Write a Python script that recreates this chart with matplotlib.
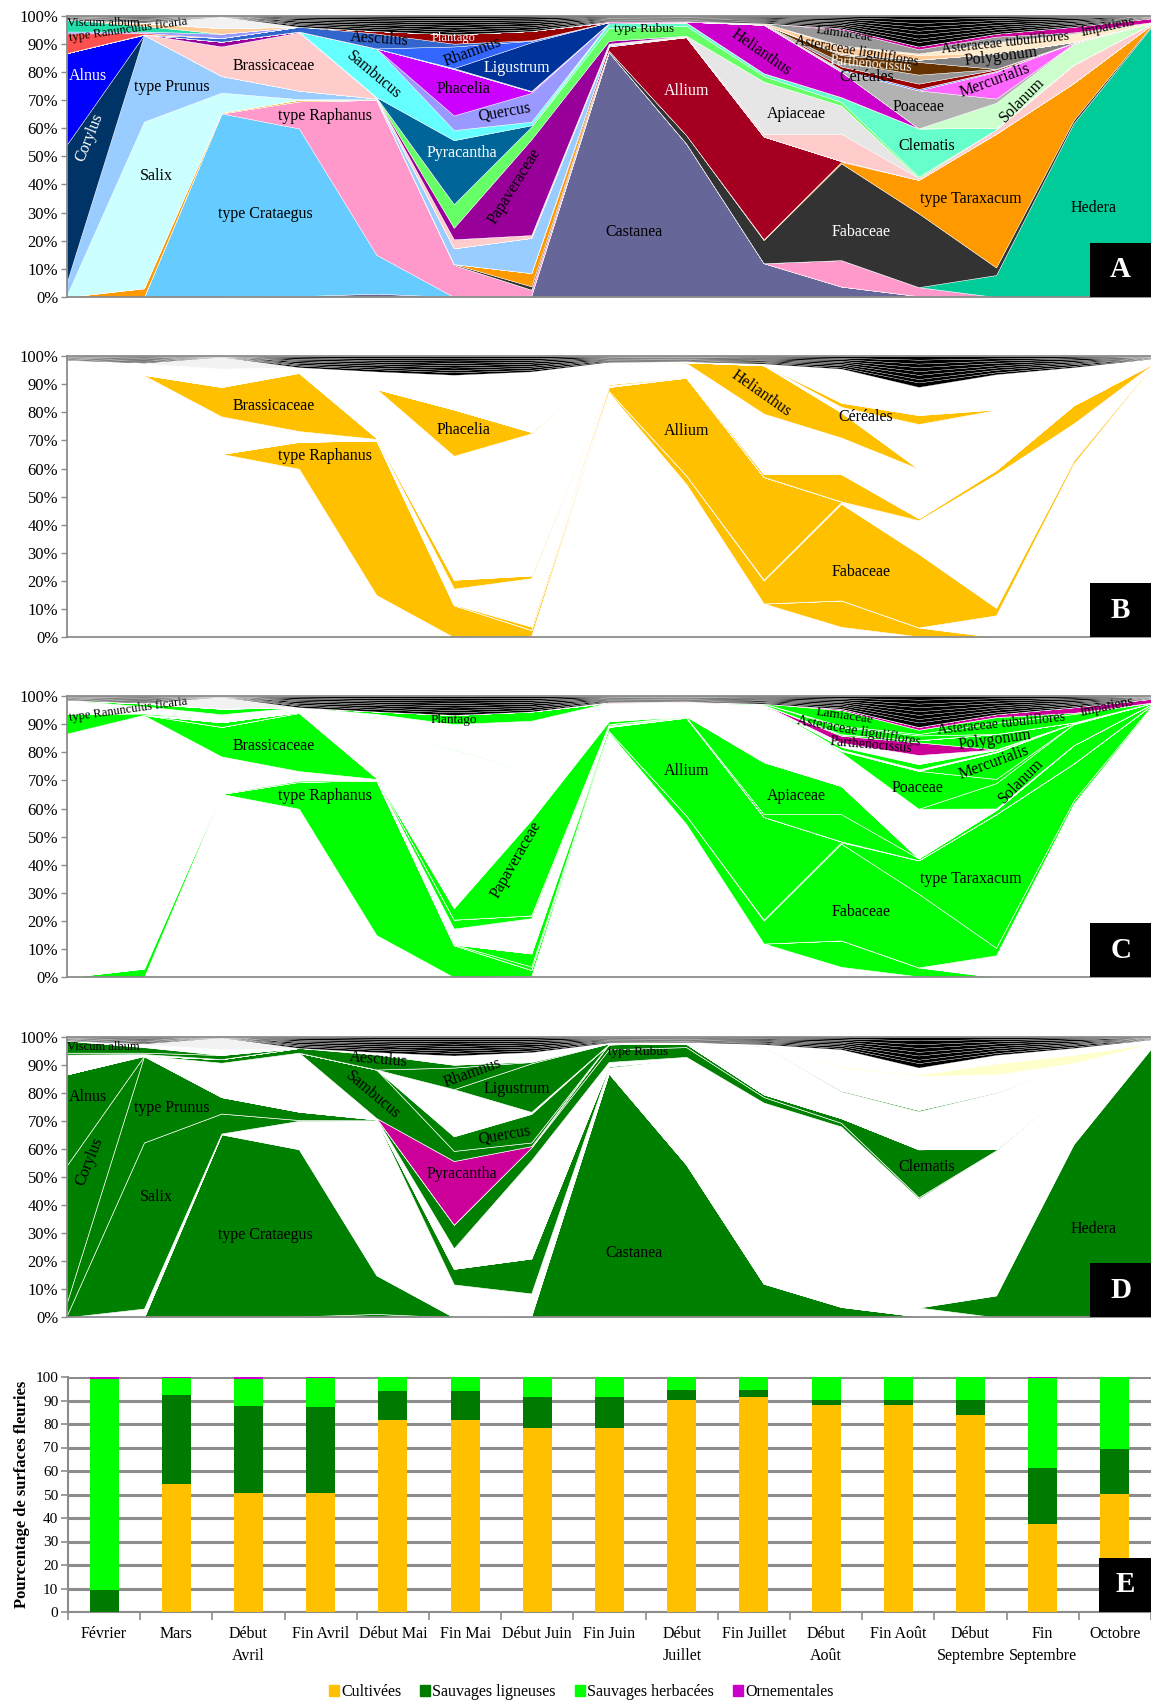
import matplotlib
matplotlib.use('Agg')
import matplotlib.pyplot as plt
import numpy as np
from matplotlib.patches import Rectangle, Patch

plt.rcParams['font.family'] = ['Liberation Serif', 'DejaVu Serif']

# ---------------- DATA ----------------
periods = ['Février', 'Mars', 'Début\nAvril', 'Fin Avril', 'Début Mai', 'Fin Mai',
           'Début Juin', 'Fin Juin', 'Début\nJuillet', 'Fin Juillet', 'Début\nAoût',
           'Fin Août', 'Début\nSeptembre', 'Fin\nSeptembre', 'Octobre']

# pollen taxa (% of pollen loads), stacked bottom -> top
castanea      = [0, 0, 0, 0.3, 1.2, 0, 0.5, 87, 54.5, 12, 3.7, 0.3, 0, 0, 0]
crataegus     = [0, 0, 65.2, 59.6, 13.8, 0, 0, 0, 0, 0, 0, 0, 0, 0, 0]
raphanus      = [0, 0, 0, 9.6, 55, 11.4, 2.1, 0, 0, 0, 9.4, 3.2, 0, 0, 0]
hedera        = [0, 0, 0, 0, 0, 0, 0, 0, 0, 0, 0, 0, 7.8, 61.7, 95.8]
fabaceae      = [0, 0, 0, 0, 0, 0.3, 1.2, 0.5, 3.0, 8.2, 34.4, 26.2, 2.7, 1.1, 0.4]
taraxacum     = [0, 3.1, 0.3, 0.5, 0.2, 0, 4.7, 0, 0, 0.3, 0.5, 11.9, 47.5, 13.2, 0.4]
allium        = [0, 0, 0, 0, 0, 0, 0, 1.5, 34.8, 36.5, 0.3, 0, 0, 0, 0]
salix         = [0.4, 59.2, 7.1, 0.3, 0, 0, 0, 0, 0, 0, 0, 0, 0, 0, 0]
prunus        = [4.5, 30.8, 5.9, 3.0, 0.3, 5.6, 12.5, 0.5, 0, 0, 0, 0, 0, 0, 0]
corylus       = [49.1, 0, 0, 0, 0, 0, 0, 0, 0, 0, 0, 0, 0, 0, 0]
alnus         = [32.6, 0, 0, 0, 0, 0, 0, 0, 0, 0, 0, 0, 0, 0, 0]
brassicaceae  = [0, 0.2, 10.5, 20.7, 0.4, 3.2, 1.0, 0.5, 0.2, 1.0, 9.7, 0.7, 1.5, 6.5, 0.4]
apiaceae      = [0, 0, 0, 0, 0, 0, 0, 0, 0.3, 18.5, 10.0, 0, 0, 0, 0]
papaveraceae  = [0, 0, 1.7, 0.3, 0, 4.1, 34, 1.0, 0, 0, 0, 0, 0, 0, 0]
rubus         = [0, 0, 0, 0, 0.1, 8.4, 4.5, 4.5, 3.5, 2.0, 1.3, 0.5, 0, 0, 0]
clematis      = [0, 0, 0, 0, 0, 0, 0, 1.8, 1.2, 1.0, 1.7, 17.1, 0.5, 0, 0]
pyracantha    = [0, 0, 0, 0, 0, 22.7, 0.5, 0, 0, 0, 0, 0, 0, 0, 0]
sambucus      = [0, 0, 0, 0, 17.3, 3.6, 1.3, 0, 0, 0, 0, 0, 0, 0, 0]
quercus       = [0, 0, 0, 0, 0, 5.2, 10.2, 0, 0, 0, 0, 0, 0, 0, 0]
phacelia      = [0, 0, 0, 0, 0, 16.5, 0.5, 0, 0, 0, 0, 0, 0, 0, 0]
helianthus    = [0, 0, 0, 0, 0, 0, 0, 0, 0.3, 17.2, 9.0, 0, 0, 0, 0]
solanum       = [0, 0, 0, 0, 0, 0, 0, 0, 0, 0, 0, 0, 9.0, 7.5, 0.4]
poaceae       = [0, 0, 0, 0, 0, 0.3, 0.2, 0, 0, 0, 0.5, 13.5, 1.5, 0, 0]
mercurialis   = [0, 0, 0, 0, 0, 0, 0, 0, 0, 0, 0, 0, 9.5, 0.3, 0]
ligustrum     = [0, 0, 0, 0, 0, 0, 17.3, 0.3, 0, 0, 0, 0, 0, 0, 0]
rhamnus       = [0, 0, 0, 0, 0, 7.7, 0.5, 0, 0, 0.2, 0.4, 0.5, 0.3, 0, 0]
aesculus      = [0, 0, 1.3, 1.7, 5.3, 1.0, 0.2, 0, 0, 0, 0, 0, 0, 0, 0]
plantago      = [0, 0, 0, 0, 0.9, 3.3, 3.3, 0, 0, 0, 1.0, 1.9, 0.5, 0, 0]
cereales      = [0, 0, 0, 0, 0, 0, 0, 0, 0, 0, 1.5, 3.2, 0.2, 0, 0]
parthenocis   = [0, 0, 0, 0, 0, 0, 0, 0, 0, 0, 2.5, 4.5, 0, 0, 0]
polygonum     = [0, 0, 0, 0, 0, 0, 0, 0, 0, 0, 0.5, 0.8, 5.5, 0.3, 0]
ranunculus    = [7.0, 0.5, 0, 0, 0, 0, 0, 0, 0, 0, 0, 0, 0, 0, 0]
violet_div    = [0.7, 0.5, 1.5, 0, 0, 0, 0, 0, 0, 0, 0, 0, 0, 0, 0]
viscum        = [4.3, 2.0, 0, 0, 0, 0, 0, 0, 0, 0, 0, 0, 0, 0, 0]
ast_ligul     = [0, 1.0, 2.0, 0, 0, 0, 0, 0, 0, 0.4, 2.5, 1.7, 0, 0, 0]
ast_tubul     = [0, 0, 0, 0, 0, 0, 0, 0, 0, 0, 0.5, 0.5, 4.0, 3.0, 0.2]
lamiaceae     = [0, 0, 0, 0, 0, 0, 0, 0, 0, 0, 5.6, 1.5, 2.0, 0.4, 0]
impatiens     = [0, 0, 0, 0, 0, 0, 0, 0.3, 0.3, 0, 0.5, 1.0, 1.0, 2.0, 1.4]
indetermine   = [0, 0.3, 4.2, 0, 0, 0, 0, 0, 0, 0, 0, 0, 0, 0, 0]
autres1       = [0.2, 0.3, 0.05, 0.6, 0.8, 0.9, 0.6, 0.3, 0.25, 0.4, 0.5, 1.6, 0.7, 0.5, 0.15]
autres2       = [0.2, 0.35, 0.05, 0.4, 0.6, 0.8, 0.8, 0.3, 0.25, 0.3, 0.7, 1.2, 0.9, 0.6, 0.15]
autres3       = [0.2, 0.25, 0.04, 0.5, 0.8, 0.9, 0.6, 0.25, 0.25, 0.4, 0.5, 1.5, 0.8, 0.4, 0.15]
autres4       = [0.2, 0.3, 0.04, 0.6, 0.6, 0.8, 0.8, 0.25, 0.25, 0.3, 0.6, 1.3, 0.8, 0.5, 0.15]
autres5       = [0.15, 0.3, 0.03, 0.4, 0.7, 0.85, 0.7, 0.25, 0.25, 0.35, 0.5, 1.4, 0.9, 0.5, 0.1]
autres6       = [0.15, 0.3, 0.03, 0.5, 0.6, 0.85, 0.6, 0.25, 0.25, 0.35, 0.6, 1.3, 0.8, 0.6, 0.1]
autres7       = [0.15, 0.3, 0.03, 0.5, 0.7, 0.8, 0.7, 0.25, 0.2, 0.3, 0.5, 1.4, 0.8, 0.4, 0.1]
autres8       = [0.15, 0.3, 0.03, 0.5, 0.7, 0.8, 0.7, 0.25, 0.2, 0.4, 0.6, 1.3, 0.8, 0.5, 0.1]

# (values, plant type, colour in panel A)
# types: W woody wild, H herbaceous wild, C cultivated, CH cultivated+wild herb,
#        OW / OH ornamental, HY herb (pale yellow in D), G undetermined, X others
layers = [
    (castanea, 'W', '#666699'), (crataegus, 'W', '#66CCFF'), (raphanus, 'CH', '#FF99CC'),
    (hedera, 'W', '#00CC99'), (fabaceae, 'CH', '#333333'), (taraxacum, 'H', '#FF9900'),
    (allium, 'CH', '#A50021'), (salix, 'W', '#CCFFFF'), (prunus, 'W', '#99CCFF'),
    (corylus, 'W', '#003366'), (alnus, 'W', '#0000FF'), (brassicaceae, 'CH', '#FFCCCC'),
    (apiaceae, 'H', '#E6E6E6'), (papaveraceae, 'H', '#990099'), (rubus, 'W', '#66FF66'),
    (clematis, 'W', '#66FFCC'), (pyracantha, 'OW', '#006699'), (sambucus, 'W', '#66FFFF'),
    (quercus, 'W', '#9999FF'), (phacelia, 'C', '#CC00FF'), (helianthus, 'C', '#CC00CC'),
    (solanum, 'H', '#CCFFCC'), (poaceae, 'H', '#B2B2B2'), (mercurialis, 'H', '#FF66FF'),
    (ligustrum, 'W', '#003399'), (rhamnus, 'W', '#3366FF'), (aesculus, 'W', '#3366CC'),
    (plantago, 'H', '#990000'), (cereales, 'C', '#969696'), (parthenocis, 'OH', '#663300'),
    (polygonum, 'H', '#808080'), (ranunculus, 'H', '#FF5050'), (violet_div, 'W', '#9999FF'),
    (viscum, 'W', '#22DDAA'), (ast_ligul, 'H', '#FFCC99'), (ast_tubul, 'HY', '#FFEBCD'),
    (lamiaceae, 'H', '#999999'), (impatiens, 'OH', '#CC0099'), (indetermine, 'G', '#F2F2F2'),
    (autres1, 'X', 'black'), (autres2, 'X', 'black'), (autres3, 'X', 'black'),
    (autres4, 'X', 'black'), (autres5, 'X', 'black'), (autres6, 'X', 'black'),
    (autres7, 'X', 'black'), (autres8, 'X', 'black'),
]

# Panel E: flowering surfaces (%)
cultivees   = [0, 54.5, 50.8, 50.5, 81.5, 81.5, 78.2, 78.2, 90.2, 91.5, 88.0, 88.0, 84.0, 37.4, 50.4]
ligneuses   = [9.5, 38.0, 36.7, 36.7, 12.7, 12.7, 13.4, 13.4, 4.3, 3.0, 2.2, 2.2, 6.2, 24.0, 19.1]
herbacees   = [89.5, 7.0, 11.8, 12.2, 5.8, 5.8, 8.4, 8.4, 5.5, 5.5, 9.8, 9.8, 9.8, 38.1, 30.5]
ornement    = [1.0, 0.5, 0.7, 0.6, 0, 0, 0, 0, 0, 0, 0, 0, 0, 0.5, 0]

# labels: (text, x index, y %, rotation, size, colour)
labels_A = [
    ('Viscum album', 0.48, 97.3, 0, 9, 'black'),
    ('type Ranunculus ficaria', 0.80, 95.0, 8, 9, 'black'),
    ('Alnus', 0.28, 78.5, 0, 11.5, 'white'),
    ('Corylus', 0.30, 56.5, 68, 11.5, 'white'),
    ('type Prunus', 1.36, 74.6, 0, 11.5, 'black'),
    ('Salix', 1.16, 43.0, 0, 11.5, 'black'),
    ('Brassicaceae', 2.67, 82.0, 0, 11.5, 'black'),
    ('type Raphanus', 3.34, 64.3, 0, 11.5, 'black'),
    ('type Crataegus', 2.57, 29.5, 0, 11.5, 'black'),
    ('Aesculus', 4.04, 91.8, -4, 11.5, 'black'),
    ('Sambucus', 3.97, 78.9, -40, 11.5, 'black'),
    ('Plantago', 5.0, 91.9, 0, 9, 'white'),
    ('Rhamnus', 5.24, 87.1, 20, 11.5, 'black'),
    ('Ligustrum', 5.82, 81.2, 0, 11.5, 'white'),
    ('Phacelia', 5.13, 73.8, 0, 11.5, 'black'),
    ('Quercus', 5.66, 65.7, 10, 11.5, 'black'),
    ('Pyracantha', 5.11, 51.0, 0, 11.5, 'white'),
    ('Papaveraceae', 5.79, 39.2, 58, 11.5, 'black'),
    ('Castanea', 7.33, 23.2, 0, 11.5, 'black'),
    ('type Rubus', 7.46, 95.1, 0, 9.5, 'black'),
    ('Allium', 8.0, 73.3, 0, 11.5, 'white'),
    ('Helianthus', 8.97, 86.8, -35, 11.5, 'black'),
    ('Apiaceae', 9.42, 64.9, 0, 11.5, 'black'),
    ('Fabaceae', 10.26, 23.2, 0, 11.5, 'white'),
    ('type Taraxacum', 11.68, 34.7, 0, 11.5, 'black'),
    ('Clematis', 11.10, 53.8, 0, 11.5, 'black'),
    ('Poaceae', 11.0, 67.6, 0, 11.5, 'black'),
    ('Hedera', 13.26, 31.5, 0, 11.5, 'black'),
    ('Solanum', 12.34, 70.0, 45, 11.5, 'black'),
    ('Mercurialis', 11.98, 76.7, 20, 11.5, 'black'),
    ('Polygonum', 12.06, 85.4, 7, 11.5, 'black'),
    ('Céréales', 10.33, 78.0, 0, 11.5, 'black'),
    ('Parthenocissus', 10.39, 82.7, -5, 10, 'white'),
    ('Asteraceae liguliflores', 10.20, 87.5, -10, 10, 'black'),
    ('Lamiaceae', 10.05, 93.4, -8, 9.5, 'black'),
    ('Asteraceae tubuliflores', 12.12, 90.3, 6, 10, 'black'),
    ('Impatiens', 13.44, 95.8, 12, 10, 'black'),
]
labels_B = [
    ('Brassicaceae', 2.68, 82.3, 0, 11.5, 'black'),
    ('type Raphanus', 3.34, 64.3, 0, 11.5, 'black'),
    ('Phacelia', 5.13, 73.7, 0, 11.5, 'black'),
    ('Allium', 8.01, 73.3, 0, 11.5, 'black'),
    ('Helianthus', 8.97, 86.7, -35, 11.5, 'black'),
    ('Céréales', 10.32, 78.2, 0, 11.5, 'black'),
    ('Fabaceae', 10.26, 23.2, 0, 11.5, 'black'),
]
labels_C = [
    ('type Ranunculus ficaria', 0.80, 95.0, 8, 9, 'black'),
    ('Brassicaceae', 2.68, 82.3, 0, 11.5, 'black'),
    ('type Raphanus', 3.34, 64.3, 0, 11.5, 'black'),
    ('Plantago', 5.0, 91.5, 0, 9.5, 'black'),
    ('Papaveraceae', 5.80, 41.7, 60, 11.5, 'black'),
    ('Allium', 8.01, 73.3, 0, 11.5, 'black'),
    ('Apiaceae', 9.42, 64.6, 0, 11.5, 'black'),
    ('Lamiaceae', 10.04, 92.9, -8, 9.5, 'black'),
    ('Asteraceae liguliflores', 10.23, 87.7, -10, 10, 'black'),
    ('Parthenocissus', 10.38, 82.6, -5, 10, 'black'),
    ('Asteraceae tubuliflores', 12.07, 90.0, 6, 10, 'black'),
    ('Polygonum', 11.99, 84.4, 8, 11.5, 'black'),
    ('Impatiens', 13.43, 96.0, 12, 10, 'black'),
    ('Mercurialis', 11.97, 76.3, 20, 11.5, 'black'),
    ('Poaceae', 10.99, 67.4, 0, 11.5, 'black'),
    ('Solanum', 12.33, 69.9, 45, 11.5, 'black'),
    ('type Taraxacum', 11.68, 34.8, 0, 11.5, 'black'),
    ('Fabaceae', 10.26, 23.2, 0, 11.5, 'black'),
]
labels_D = [
    ('Viscum album', 0.48, 96.5, 0, 9, 'black'),
    ('Alnus', 0.28, 78.4, 0, 11.5, 'black'),
    ('Corylus', 0.30, 55.5, 68, 11.5, 'black'),
    ('type Prunus', 1.36, 74.5, 0, 11.5, 'black'),
    ('Salix', 1.16, 43.0, 0, 11.5, 'black'),
    ('type Crataegus', 2.57, 29.3, 0, 11.5, 'black'),
    ('Aesculus', 4.03, 92.0, -5, 11.5, 'black'),
    ('Sambucus', 3.95, 79.2, -40, 11.5, 'black'),
    ('Rhamnus', 5.24, 87.0, 20, 11.5, 'black'),
    ('Ligustrum', 5.81, 81.2, 0, 11.5, 'black'),
    ('Quercus', 5.66, 65.0, 10, 11.5, 'black'),
    ('Pyracantha', 5.10, 51.0, 0, 11.5, 'black'),
    ('type Rubus', 7.38, 94.7, 0, 9.5, 'black'),
    ('Castanea', 7.33, 23.0, 0, 11.5, 'black'),
    ('Clematis', 11.10, 53.7, 0, 11.5, 'black'),
    ('Hedera', 13.26, 31.4, 0, 11.5, 'black'),
]

# ---------------- PLOT ----------------
W, H = 1151, 1703
fig = plt.figure(figsize=(W / 100, H / 100), dpi=100)
GRAY = '#8C8C8C'


def add_ax(x0, y_top, x1, y_bot):
    return fig.add_axes([x0 / W, 1 - y_bot / H, (x1 - x0) / W, (y_bot - y_top) / H])


def panel_color(kind, colA, panel):
    if kind == 'X':
        return 'black'
    if kind == 'G':
        return '#F2F2F2'
    if panel == 'A':
        return colA
    if panel == 'B':
        return '#FFC000' if kind in ('C', 'CH') else 'white'
    if panel == 'C':
        if kind in ('H', 'CH', 'HY'):
            return '#00FF00'
        return '#CC0099' if kind == 'OH' else 'white'
    if panel == 'D':
        if kind == 'W':
            return '#008000'
        if kind == 'OW':
            return '#CC0099'
        return '#FFFFCC' if kind == 'HY' else 'white'


def letter_box(ax, letter, x0, w, h):
    ax.add_patch(Rectangle((x0, 0), w, h, transform=ax.transAxes, facecolor='black',
                           edgecolor='none', zorder=10, clip_on=False))
    ax.text(x0 + w / 2, h / 2, letter, transform=ax.transAxes, color='white',
            fontsize=21, fontweight='bold', ha='center', va='center', zorder=11)


x = np.arange(len(periods))
vals = [np.array(v, dtype=float) for v, _, _ in layers]
kinds = [k for _, k, _ in layers]

panels = [('A', add_ax(66.5, 15.5, 1151, 297), labels_A),
          ('B', add_ax(66.5, 356, 1151, 637.3), labels_B),
          ('C', add_ax(66.5, 696, 1151, 977.3), labels_C),
          ('D', add_ax(66.5, 1036.7, 1151, 1317.3), labels_D)]

for name, ax, labs in panels:
    cols = [panel_color(k, c, name) for _, k, c in layers]
    lw = 0.3 if name == 'A' else 0.45
    polys = ax.stackplot(x, *vals, colors=cols, edgecolor='white', linewidth=lw)
    for p, k in zip(polys, kinds):
        if k == 'X':
            p.set_linewidth(0.2)
    ax.set_xlim(0, 14)
    ax.set_ylim(0, 100)
    ax.set_xticks([])
    ax.set_yticks(np.arange(0, 101, 10))
    ax.set_yticklabels([f'{v}%' for v in range(0, 101, 10)], fontsize=12)
    ax.tick_params(axis='y', length=4, width=1, color=GRAY, pad=2)
    for s in ['left', 'bottom', 'top']:
        ax.spines[s].set_color(GRAY)
        ax.spines[s].set_linewidth(1.3)
    ax.spines['right'].set_visible(False)
    for t, xi, yi, rot, fs, c in labs:
        ax.text(xi, yi, t, rotation=rot, fontsize=fs, color=c, ha='center', va='center',
                rotation_mode='anchor')
    letter_box(ax, name, 0.944, 0.056, 0.192)

# Panel E
axE = add_ax(68, 1377, 1151, 1612)
bw = 0.4
b1 = np.array(cultivees)
b2 = b1 + np.array(ligneuses)
b3 = b2 + np.array(herbacees)
axE.bar(x, cultivees, bw, color='#FFC000', zorder=3)
axE.bar(x, ligneuses, bw, bottom=b1, color='#007A00', zorder=3)
axE.bar(x, herbacees, bw, bottom=b2, color='#00FF00', zorder=3)
axE.bar(x, ornement, bw, bottom=b3, color='#CC00CC', zorder=3)
axE.set_xlim(-0.5, 14.5)
axE.set_ylim(0, 100)
axE.set_yticks(np.arange(0, 101, 10))
axE.set_yticklabels([str(v) for v in range(0, 101, 10)], fontsize=11)
axE.yaxis.grid(True, color=GRAY, linewidth=2.2, zorder=0)
axE.set_axisbelow(True)
axE.set_xticks(x)
axE.set_xticklabels(periods, fontsize=11.5, linespacing=1.5)
axE.set_xticks(np.arange(-0.5, 15, 1), minor=True)
axE.tick_params(axis='x', which='major', length=0, pad=10)
axE.tick_params(axis='x', which='minor', length=6, width=1.2, color=GRAY)
axE.tick_params(axis='y', length=5, width=1.2, color=GRAY, pad=2)
for s in ['left', 'bottom']:
    axE.spines[s].set_color(GRAY)
    axE.spines[s].set_linewidth(1.5)
axE.spines['top'].set_visible(False)
axE.spines['right'].set_visible(False)
axE.set_ylabel('Pourcentage de surfaces fleuries', fontsize=12, fontweight='bold', labelpad=4)
letter_box(axE, 'E', 0.952, 0.048, 0.23)

handles = [Patch(color='#FFC000', label='Cultivées'),
           Patch(color='#007A00', label='Sauvages ligneuses'),
           Patch(color='#00FF00', label='Sauvages herbacées'),
           Patch(color='#CC00CC', label='Ornementales')]
fig.legend(handles=handles, loc='center', bbox_to_anchor=(0.505, 0.0065), ncol=4,
           frameon=False, fontsize=11.5, handlelength=0.6, handleheight=0.7,
           handletextpad=0.15, columnspacing=1.2)

fig.savefig('out.png', dpi=100)
